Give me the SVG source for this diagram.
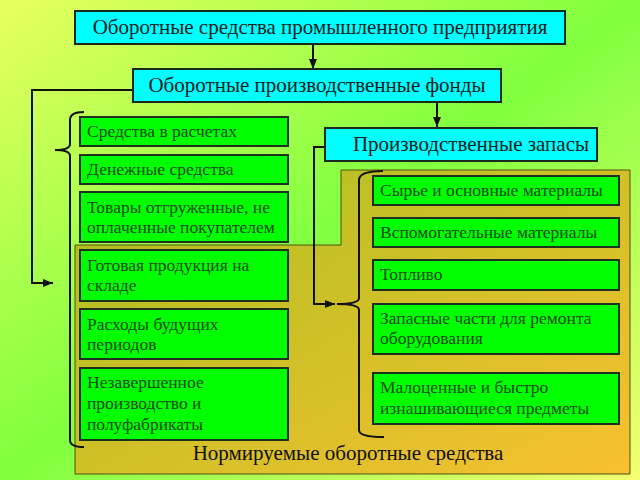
<svg xmlns="http://www.w3.org/2000/svg" width="640" height="480" viewBox="0 0 640 480">
<defs>
<linearGradient id="bg" x1="0" y1="0" x2="1" y2="1">
<stop offset="0" stop-color="#e8ff60"/>
<stop offset="0.5" stop-color="#80ff40"/>
<stop offset="1" stop-color="#f4ff70"/>
</linearGradient>
<linearGradient id="nr" x1="0" y1="0" x2="1" y2="1">
<stop offset="0" stop-color="#a8c020"/>
<stop offset="1" stop-color="#f8c030"/>
</linearGradient>
<marker id="ar" viewBox="0 0 10 10" refX="10" refY="5" markerWidth="10" markerHeight="10" markerUnits="userSpaceOnUse" orient="auto">
<path d="M0,1 L10,5 L0,9 Z" fill="#111"/>
</marker>
<style>
.hdr{fill:#00ffff;stroke:#1a2a1a;stroke-width:2}
.hdt{font-family:"Liberation Serif",serif;font-size:21px;fill:#102020}
.box{fill:#00ff00;stroke:#203020;stroke-width:2}
.bt{font-family:"Liberation Serif",serif;font-size:17.5px;fill:#1a4a10}
.ln{fill:none;stroke:#111;stroke-width:2}
</style>
</defs>
<rect width="640" height="480" fill="url(#bg)"/>
<g id="normed">
<polygon points="341,170 630,170 630,474 75,474 75,245 341,245" fill="url(#nr)" stroke="#505010" stroke-width="1"/>
<text x="348" y="460" text-anchor="middle" font-family="Liberation Serif, serif" font-size="21" fill="#101010">Нормируемые оборотные средства</text>
</g>
<g id="connectors">
<line class="ln" x1="313" y1="44" x2="313" y2="69" marker-end="url(#ar)"/>
<line class="ln" x1="437" y1="102" x2="437" y2="127" marker-end="url(#ar)"/>
<path class="ln" d="M133,90 H32 V283 H53" marker-end="url(#ar)"/>
<path class="ln" d="M325,147 H314 V304 H335" marker-end="url(#ar)"/>
<path class="ln" d="M84,112 Q70,112 70,120 V144 Q70,150 55,150 Q70,150 70,156 V440 Q70,447 84,447"/>
<path class="ln" d="M383,171 Q359,171 359,180 V298 Q359,304 337,304 Q359,304 359,310 V430 Q359,437 384,437"/>
</g>
<g id="n1"><rect class="hdr" x="75" y="11" width="490" height="33"/><text class="hdt" x="320" y="34" text-anchor="middle">Оборотные средства промышленного предприятия</text></g>
<g id="n2"><rect class="hdr" x="133" y="69" width="368" height="33"/><text class="hdt" x="317" y="92" text-anchor="middle">Оборотные производственные фонды</text></g>
<g id="n3"><rect class="hdr" x="325" y="128" width="272" height="33"/><text class="hdt" x="471" y="151" text-anchor="middle">Производственные запасы</text></g>
<g id="l1"><rect class="box" x="80" y="117" width="208" height="29"/><text class="bt" x="87" y="137">Средства в расчетах</text></g>
<g id="l2"><rect class="box" x="80" y="155" width="208" height="29"/><text class="bt" x="87" y="175">Денежные средства</text></g>
<g id="l3"><rect class="box" x="80" y="192" width="208" height="50"/><text class="bt" x="87" y="213">Товары отгруженные, не</text><text class="bt" x="87" y="233">оплаченные покупателем</text></g>
<g id="l4"><rect class="box" x="80" y="250" width="208" height="51"/><text class="bt" x="87" y="271">Готовая продукция на</text><text class="bt" x="87" y="291">складе</text></g>
<g id="l5"><rect class="box" x="80" y="309" width="208" height="50"/><text class="bt" x="87" y="330">Расходы будущих</text><text class="bt" x="87" y="350">периодов</text></g>
<g id="l6"><rect class="box" x="80" y="368" width="208" height="72"/><text class="bt" x="87" y="388">Незавершенное</text><text class="bt" x="87" y="409">производство и</text><text class="bt" x="87" y="430">полуфабрикаты</text></g>
<g id="r1"><rect class="box" x="373" y="176" width="246" height="29"/><text class="bt" x="380" y="196">Сырье и основные материалы</text></g>
<g id="r2"><rect class="box" x="373" y="218" width="246" height="29"/><text class="bt" x="380" y="238">Вспомогательные материалы</text></g>
<g id="r3"><rect class="box" x="373" y="260" width="246" height="30"/><text class="bt" x="380" y="280">Топливо</text></g>
<g id="r4"><rect class="box" x="373" y="304" width="246" height="50"/><text class="bt" x="380" y="324">Запасные части для ремонта</text><text class="bt" x="380" y="344">оборудования</text></g>
<g id="r5"><rect class="box" x="373" y="373" width="246" height="51"/><text class="bt" x="380" y="393">Малоценные и быстро</text><text class="bt" x="380" y="414">изнашивающиеся предметы</text></g>
</svg>
